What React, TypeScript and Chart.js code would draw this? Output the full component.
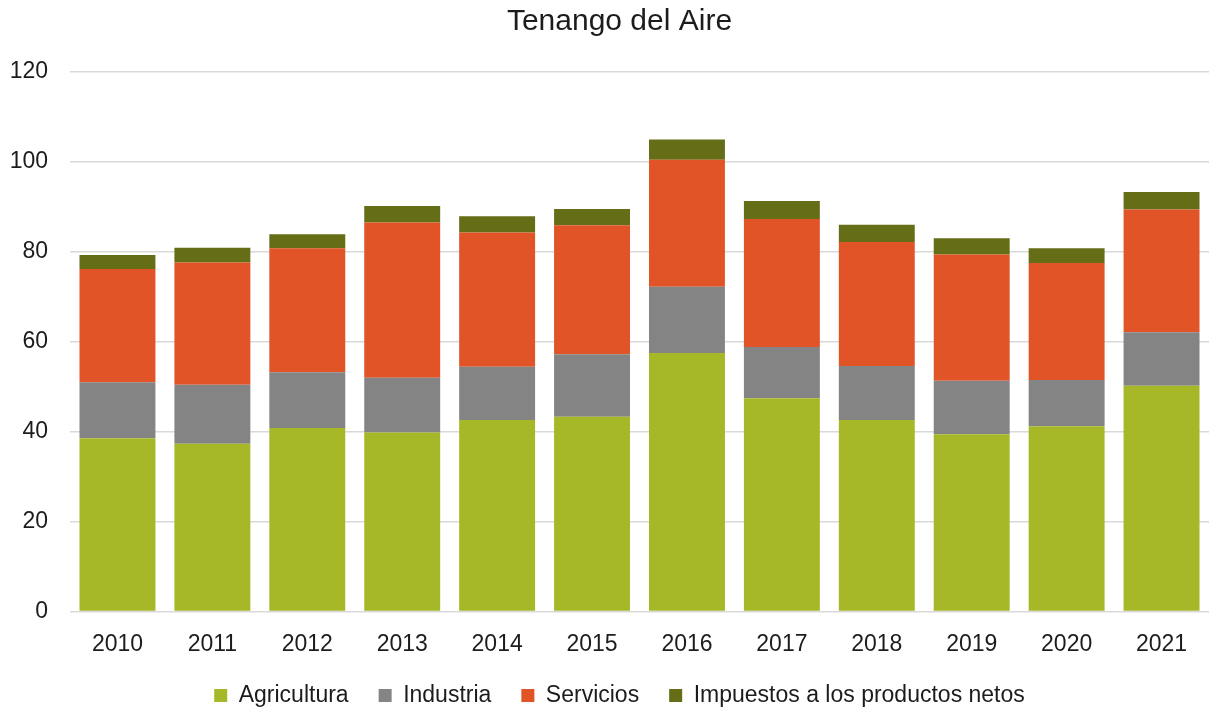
import React, { useEffect, useRef } from "react";
import { Chart, registerables } from "chart.js";

Chart.register(...registerables);

const years = ["2010", "2011", "2012", "2013", "2014", "2015", "2016", "2017", "2018", "2019", "2020", "2021"];
const agricultura = [38.5, 37.3, 40.8, 39.8, 42.6, 43.3, 57.5, 47.4, 42.6, 39.4, 41.2, 50.2];
const industria = [12.5, 13.1, 12.4, 12.2, 11.8, 13.9, 14.7, 11.4, 12.0, 11.9, 10.3, 11.9];
const servicios = [25.2, 27.2, 27.6, 34.5, 29.9, 28.7, 28.3, 28.5, 27.6, 28.1, 26.0, 27.3];
const impuestos = [3.1, 3.3, 3.1, 3.7, 3.6, 3.6, 4.5, 4.0, 3.8, 3.6, 3.3, 3.9];
const yMin = 0;
const yMax = 120;
const yStep = 20;

const FONT = "'Liberation Sans', Arial, Helvetica, sans-serif";
const TEXT = "#1c1c1c";

const noLabelClip = {
  id: "noLabelClip",
  beforeDraw(chart: any) {
    Object.values(chart.scales).forEach((s: any) => {
      s._computeLabelArea = () => undefined;
    });
  },
};

export default function App() {
  const ref = useRef<HTMLCanvasElement | null>(null);

  useEffect(() => {
    document.body.style.margin = "0";
    const canvas = ref.current;
    if (!canvas) return;
    const chart = new Chart(canvas, {
      type: "bar",
      data: {
        labels: years,
        datasets: [
          { label: "Agricultura", data: agricultura, backgroundColor: "#a6b727" },
          { label: "Industria", data: industria, backgroundColor: "#848484" },
          { label: "Servicios", data: servicios, backgroundColor: "#e05427" },
          { label: "Impuestos a los productos netos", data: impuestos, backgroundColor: "#656d17" },
        ],
      },
      options: {
        animation: false,
        responsive: false,
        maintainAspectRatio: false,
        layout: { padding: { left: 30, right: 0, top: 0, bottom: -8 } },
        datasets: { bar: { categoryPercentage: 0.8, barPercentage: 1, borderWidth: 0 } },
        scales: {
          x: {
            stacked: true,
            grid: { display: false, drawTicks: false },
            border: { display: false },
            ticks: { color: TEXT, font: { family: FONT, size: 23 }, padding: 19, maxRotation: 0 },
            afterFit: (scale: any) => {
              scale.height = scale.height - 23;
            },
          },
          y: {
            stacked: true,
            min: yMin,
            max: yMax,
            grid: { color: "#d9d9d9", lineWidth: 1.5, drawTicks: false },
            border: { display: false },
            ticks: { stepSize: yStep, color: TEXT, font: { family: FONT, size: 23 }, padding: 22 },
            afterFit: (scale: any) => {
              scale.width = 40;
            },
          },
        },
        plugins: {
          title: {
            display: true,
            text: "Tenango del Aire",
            color: TEXT,
            font: { family: FONT, size: 30, weight: "normal" },
            padding: { top: 4, bottom: 32 },
          },
          legend: {
            position: "bottom",
            labels: {
              color: TEXT,
              font: { family: FONT, size: 23 },
              boxWidth: 13,
              boxHeight: 13,
              padding: 30,
            },
          },
          tooltip: { enabled: false },
        },
      },
      plugins: [noLabelClip],
    });
    return () => chart.destroy();
  }, []);

  return (
    <div style={{ position: "fixed", left: 0, top: 0, width: 1209, height: 709 }}>
      <canvas ref={ref} width={1209} height={709} style={{ width: 1209, height: 709 }} />
    </div>
  );
}
